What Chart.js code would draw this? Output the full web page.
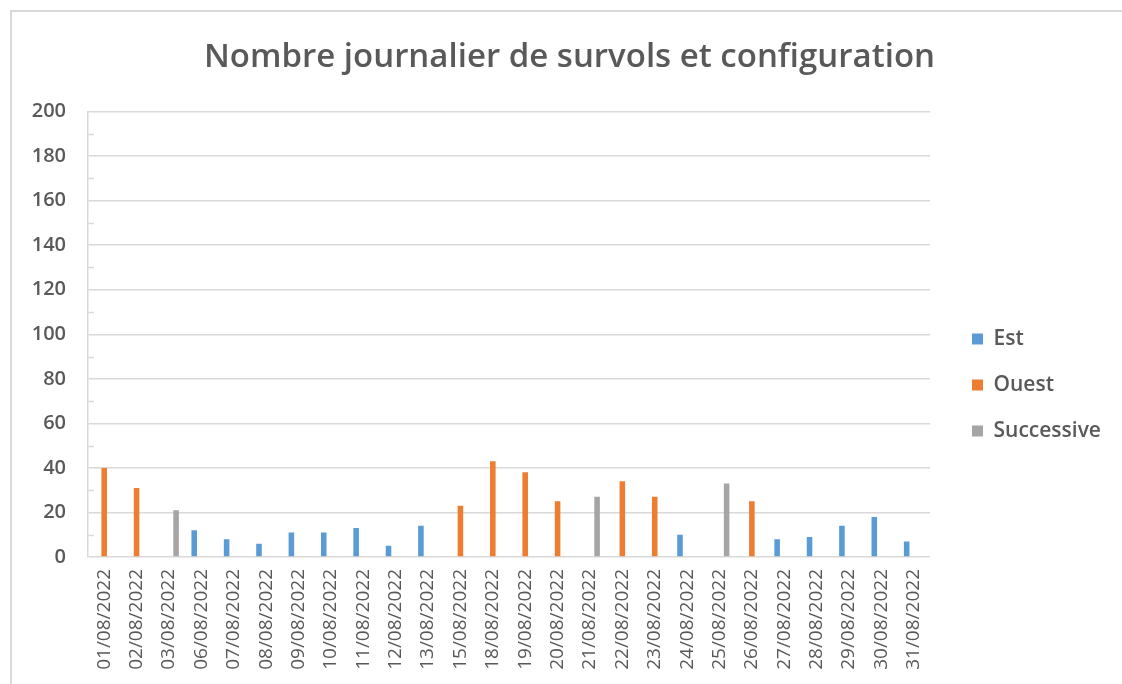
<!DOCTYPE html>
<html lang="fr">
<head>
<meta charset="utf-8">
<title>Nombre journalier de survols et configuration</title>
<script src="https://cdn.jsdelivr.net/npm/chart.js@4.4.6/dist/chart.umd.min.js"></script>
<style>
  html, body { margin: 0; padding: 0; background: #fff; overflow: hidden; }
  #cadre { position: absolute; left: 10px; top: 10px; width: 1130px; height: 700px; border: 2px solid #d9d9d9; }
  #graficaSurvols { position: absolute; left: 0; top: 0; }
</style>
</head>
<body>
<div id="cadre"></div>
<canvas id="graficaSurvols" width="1122" height="684"></canvas>
<script>
const fechas = [
    "01/08/2022", "02/08/2022", "03/08/2022", "06/08/2022", "07/08/2022", "08/08/2022",
    "09/08/2022", "10/08/2022", "11/08/2022", "12/08/2022", "13/08/2022", "15/08/2022",
    "18/08/2022", "19/08/2022", "20/08/2022", "21/08/2022", "22/08/2022", "23/08/2022",
    "24/08/2022", "25/08/2022", "26/08/2022", "27/08/2022", "28/08/2022", "29/08/2022",
    "30/08/2022", "31/08/2022"
];

// une seule configuration par jour, les autres restent vides
const survolsEst = [null, null, null, 12, 8, 6, 11, 11, 13, 5, 14, null, null, null, null, null, null, null, 10, null, null, 8, 9, 14, 18, 7];
const survolsOuest = [40, 31, null, null, null, null, null, null, null, null, null, 23, 43, 38, 25, null, 34, 27, null, null, 25, null, null, null, null, null];
const survolsSuccessive = [null, null, 21, null, null, null, null, null, null, null, null, null, null, null, null, 27, null, null, null, 33, null, null, null, null, null, null];

const nomsSeries = ["Est", "Ouest", "Successive"];
const couleursSeries = ["#5b9bd5", "#ed7d31", "#a5a5a5"];

const yMin = 0;
const yMax = 200;
const yPas = 20;

document.addEventListener('DOMContentLoaded', function () {

    const gris = '#595959';
    const grille = '#d9d9d9';
    const policeTexte = '"Open Sans", "DejaVu Sans", sans-serif';
    const tailleLegende = 21;
    const espaceLegende = 46 - tailleLegende;

    // largeur de la légende pour garder la zone de tracé à droite à x=930
    const mesure = document.createElement('canvas').getContext('2d');
    mesure.font = '600 ' + tailleLegende + 'px ' + policeTexte;
    const texteMax = Math.max(...nomsSeries.map(n => mesure.measureText(n).width));
    const decalage = 972 - 930 - espaceLegende;
    const largeurLegende = espaceLegende + 11 + tailleLegende / 2 + texteMax + 10;
    const margeDroite = Math.max(0, 1122 - 930 - decalage - largeurLegende);
    // le titre est centré vers x=570 comme dans Excel (les étiquettes de l'axe y ne doivent pas être coupées)
    const margeGauche = Math.min(28, margeDroite + 19);

    // petites graduations secondaires sur l'axe vertical
    const graduationsMineures = {
        id: 'graduationsMineures',
        afterDatasetsDraw(chart) {
            const ctx = chart.ctx;
            const echelle = chart.scales.y;
            const gauche = chart.chartArea.left;
            ctx.save();
            ctx.strokeStyle = grille;
            ctx.lineWidth = 1.5;
            for (let v = yMin + yPas / 2; v < yMax; v += yPas) {
                const y = Math.round(echelle.getPixelForValue(v)) + 0.5;
                ctx.beginPath();
                ctx.moveTo(gauche, y);
                ctx.lineTo(gauche + 6, y);
                ctx.stroke();
            }
            ctx.restore();
        }
    };

    const series = [survolsEst, survolsOuest, survolsSuccessive];

    new Chart(document.getElementById('graficaSurvols').getContext('2d'), {
        type: 'bar',
        data: {
            labels: fechas,
            datasets: series.map((valeurs, i) => ({
                label: nomsSeries[i],
                data: valeurs,
                backgroundColor: couleursSeries[i],
                borderWidth: 0,
                categoryPercentage: 0.66,
                barPercentage: 0.78
            }))
        },
        options: {
            responsive: false,
            animation: false,
            layout: {
                padding: { left: margeGauche, right: margeDroite, top: 0, bottom: 0 }
            },
            plugins: {
                title: {
                    display: true,
                    text: 'Nombre journalier de survols et configuration',
                    color: gris,
                    font: { family: policeTexte, size: 33, weight: '600', lineHeight: 1.2 },
                    padding: { top: 38, bottom: 34 }
                },
                legend: {
                    position: 'right',
                    title: {
                        display: true,
                        text: '',
                        font: { size: 10, lineHeight: 1.2 },
                        padding: { top: 74, bottom: 0 }
                    },
                    labels: {
                        boxWidth: 11,
                        boxHeight: 11,
                        padding: espaceLegende,
                        color: gris,
                        font: { family: policeTexte, size: tailleLegende, weight: '600' }
                    }
                },
                tooltip: { enabled: false }
            },
            scales: {
                x: {
                    grid: { display: false, drawTicks: false },
                    border: { display: false },
                    ticks: {
                        autoSkip: false,
                        minRotation: 90,
                        maxRotation: 90,
                        padding: 12,
                        color: gris,
                        font: { family: policeTexte, size: 19, weight: '400' }
                    },
                    afterFit(echelle) { echelle.height = 684 - 557; }
                },
                y: {
                    min: yMin,
                    max: yMax,
                    grid: { color: grille, lineWidth: 1.5, drawTicks: false },
                    border: { display: true, color: grille, width: 1.5 },
                    ticks: {
                        stepSize: yPas,
                        padding: 22,
                        color: gris,
                        font: { family: policeTexte, size: 20, weight: '600' }
                    },
                    afterFit(echelle) { echelle.width = 88 - margeGauche; }
                },
                y2: {
                    position: 'right',
                    display: true,
                    grid: { display: false, drawTicks: false },
                    border: { display: false },
                    ticks: { display: false },
                    afterFit(echelle) { echelle.width = decalage; }
                }
            }
        },
        plugins: [graduationsMineures]
    });
});
</script>
</body>
</html>
